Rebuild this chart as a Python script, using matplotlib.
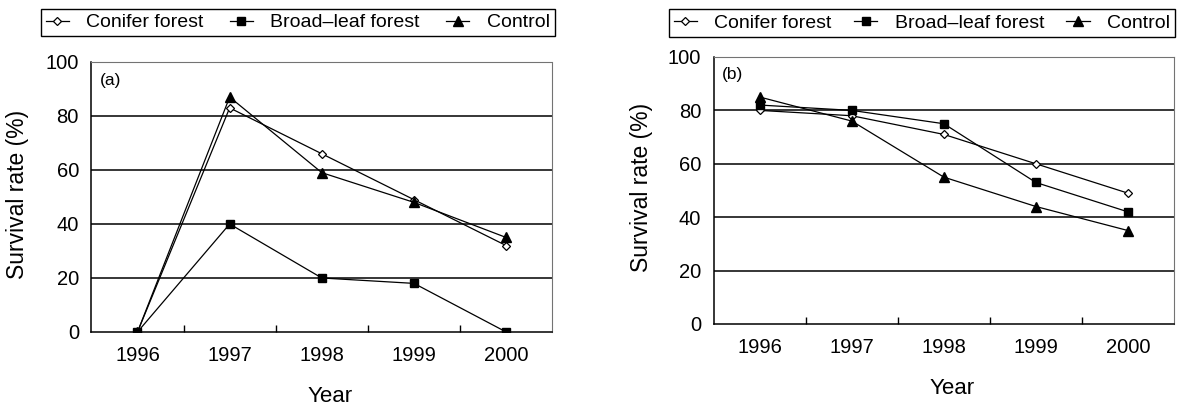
# Survival rate of seedlings, panels (a) and (b)
import matplotlib
matplotlib.use("Agg")
import matplotlib.pyplot as plt
import numpy as np

plt.rcParams['font.family'] = ['Liberation Sans', 'DejaVu Sans']

years = ['1996', '1997', '1998', '1999', '2000']
series_names = ['Conifer forest', 'Broad\u2013leaf forest', 'Control']

# panel (a)
conifer_a = [0, 83, 66, 49, 32]
broad_a = [0, 40, 20, 18, 0]
control_a = [0, 87, 59, 48, 35]

# panel (b)
conifer_b = [80, 78, 71, 60, 49]
broad_b = [82, 80, 75, 53, 42]
control_b = [85, 76, 55, 44, 35]

yticks = [0, 20, 40, 60, 80, 100]

styles = [
    dict(marker='D', markersize=4, markerfacecolor='white', markeredgecolor='black', markeredgewidth=0.9),
    dict(marker='s', markersize=6, markerfacecolor='black', markeredgecolor='black'),
    dict(marker='^', markersize=7, markerfacecolor='black', markeredgecolor='black'),
]


# ----------------------------------------------------------------------------
# One panel
def draw_panel(fig, rect, data, tag, legend_box, ylab_x, xlab_y):
    ax = fig.add_axes(rect)
    x = np.arange(len(years))
    lines = []
    for vals, name, st in zip(data, series_names, styles):
        ln, = ax.plot(x, vals, color='black', lw=0.9, label=name, **st)
        lines.append(ln)

    ax.set_xlim(-0.5, len(years) - 0.5)
    ax.set_ylim(0, 100)
    ax.set_yticks(yticks)
    ax.set_xticks(x)
    ax.set_xticklabels(years)
    ax.set_xticks(x[:-1] + 0.5, minor=True)
    ax.tick_params(axis='x', which='major', length=0, pad=10, labelsize=14.5)
    ax.tick_params(axis='x', which='minor', length=5, direction='in', width=1)
    ax.tick_params(axis='y', length=0, pad=9, labelsize=14.5)

    for v in yticks[1:-1]:
        ax.axhline(v, color='black', lw=1.1, zorder=0)

    ax.spines['left'].set_linewidth(1.1)
    ax.spines['bottom'].set_linewidth(1.1)
    for s in ['top', 'right']:
        ax.spines[s].set_color('0.45')
        ax.spines[s].set_linestyle((0, (2, 1)))
        ax.spines[s].set_linewidth(0.8)

    ax.set_ylabel('Survival rate (%)', fontsize=16.5)
    ax.yaxis.set_label_coords(ylab_x, 0.51)
    ax.set_xlabel('Year', fontsize=16)
    ax.xaxis.set_label_coords(0.518, xlab_y)
    ax.text(0.018, 0.933, tag, transform=ax.transAxes, fontsize=12.5, va='center', ha='left')

    leg = fig.legend(handles=lines, loc='center', bbox_to_anchor=legend_box, mode='expand',
                     ncol=3, fontsize=14, frameon=True, fancybox=False, framealpha=1,
                     edgecolor='black', borderpad=0.25, handlelength=1.2, handletextpad=0.9,
                     columnspacing=1.0, borderaxespad=0)
    leg.get_frame().set_linewidth(1.0)
    return ax


fig = plt.figure(figsize=(11.78, 4.08), dpi=100)

draw_panel(fig, [0.0776, 0.1863, 0.3912, 0.6618],
           [conifer_a, broad_a, control_a], '(a)',
           (0.0345, 0.9142, 0.4363, 0.0613), -0.135, -0.2)
draw_panel(fig, [0.6059, 0.2059, 0.3907, 0.6544],
           [conifer_b, broad_b, control_b], '(b)',
           (0.5677, 0.9118, 0.4298, 0.0637), -0.132, -0.202)

fig.savefig('out.png', dpi=100)
plt.close(fig)
